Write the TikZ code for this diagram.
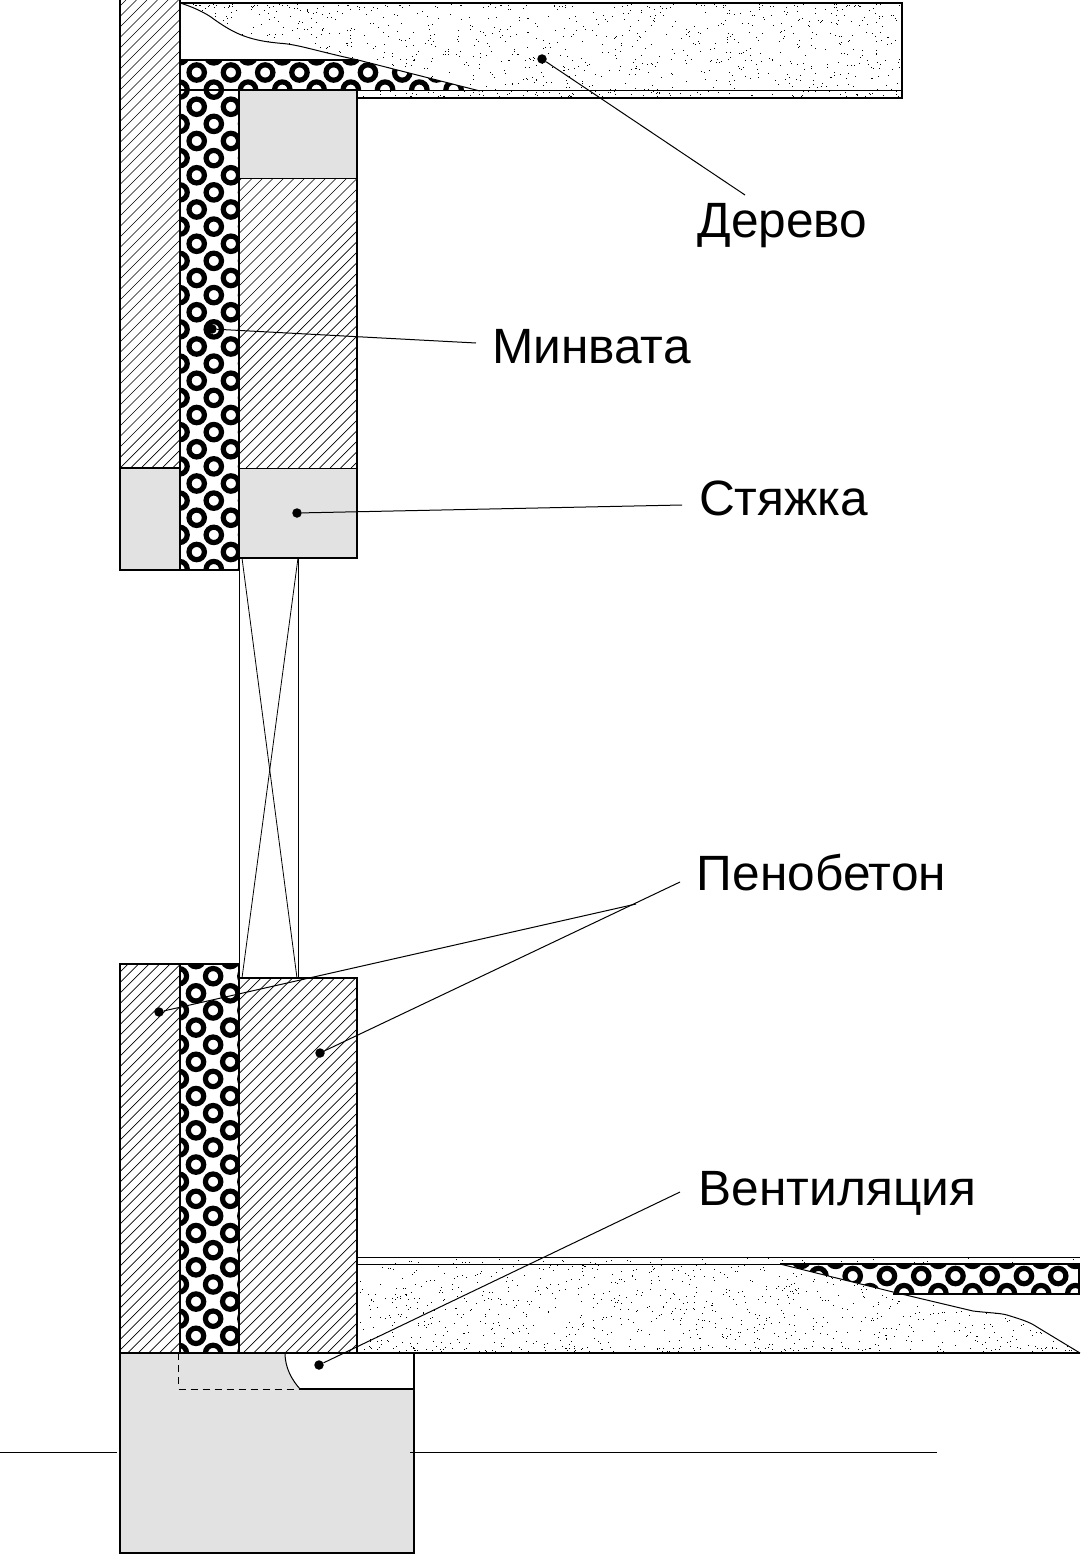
\documentclass[tikz,border=0pt]{standalone}
\usepackage{fontspec}
\setmainfont{Liberation Sans}
\tikzset{
  ringmark/.style={line width=5.2pt,black},
  hatchline/.style={line width=0.7pt,black},
  edge/.style={line width=1.3pt,black},
  thinedge/.style={line width=1pt,black},
  leader/.style={line width=1pt,black},
  dotmark/.style={circle,fill=black,inner sep=0pt,minimum size=9.5pt},
  labeltext/.style={font=\fontsize{49.6}{50}\selectfont,inner sep=0pt,anchor=base},
}
\definecolor{slab}{RGB}{226,226,226}
% rings: x0 y0 x1 x2 y1 y2 (x,y loop counts)
\newcommand{\ringfield}[6]{%
  \foreach \ii in {#3,...,#4}{\foreach \jj in {#5,...,#6}{%
    \draw[ringmark] ({#1+34.25*\ii},{#2+34.25*\jj}) circle (7.7);
    \draw[ringmark] ({#1+17.12+34.25*\ii},{#2+17.12+34.25*\jj}) circle (7.7);
  }}}
% hatch inside rectangle
\newcommand{\hatchrect}[4]{%
  \begin{scope}
    \clip (#1,#2) rectangle (#3,#4);
    \pgfmathtruncatemacro{\hstart}{floor((#1+#2)/10.5)}
    \pgfmathtruncatemacro{\hstop}{ceil((#3+#4)/10.5)}
    \foreach \kk in {\hstart,...,\hstop}{%
      \draw[hatchline] ({10.5*\kk-#4},#4) -- ({10.5*\kk-#2},#2);
    }
  \end{scope}}
% stipple rect x0 y0 width height count
\newcommand{\stipple}[5]{%
  \foreach \nn in {1,...,#5}{%
    \pgfmathsetmacro{\sx}{#1+rnd*#3}
    \pgfmathsetmacro{\sy}{#2+rnd*#4}
    \fill[black] (\sx,\sy) rectangle +(0.9,0.9);
  }}
\begin{document}
\begin{tikzpicture}[x=1pt,y=-1pt]
\useasboundingbox (0,0) rectangle (1080,1554);
\fill[white] (0,0) rectangle (1080,1554);
\pgfmathsetseed{4242}

%% ---------- upper part
\begin{scope}
  \clip (180,60) rectangle (500,90) (180,90) rectangle (239,570);
  \ringfield{196.7}{72.5}{-1}{9}{-1}{15}
\end{scope}
\begin{scope}
  \fill[white] (180,3) -- (902,3) -- (902,98) -- (357,98) -- (357,91) -- (480,91)
    -- (358,60) .. controls (320,52) and (300,45) .. (283,43.5)
    .. controls (250,41) and (235,34) .. (215,20) .. controls (205,12) and (190,6) .. (180,3) -- cycle;
  \clip (180,3) -- (902,3) -- (902,98) -- (357,98) -- (357,91) -- (480,91)
    -- (358,60) .. controls (320,52) and (300,45) .. (283,43.5)
    .. controls (250,41) and (235,34) .. (215,20) .. controls (205,12) and (190,6) .. (180,3) -- cycle;
  \stipple{180}{3}{722}{95}{1000}
  \stipple{180}{4}{722}{3}{60}
  \stipple{357}{91}{545}{7}{70}
\end{scope}
\draw[thinedge] (180,3) .. controls (190,6) and (205,12) .. (215,20)
   .. controls (235,34) and (250,41) .. (283,43.5)
   .. controls (300,45) and (320,52) .. (358,60) -- (480,91);
\draw[edge] (180,3) -- (902,3) -- (902,98) -- (357,98);
\draw[thinedge] (357,91) -- (902,91);
\draw[edge] (180,60) -- (358,60);
\draw[edge] (180,90) -- (239,90);

\hatchrect{120}{0}{180}{468}
\fill[slab] (120,468) rectangle (180,570);
\draw[edge] (120,0) -- (120,570) -- (180,570) -- (180,0);
\draw[line width=1.8pt] (120,468) -- (180,468);
\draw[edge] (180,570) -- (239,570) -- (239,90);
\fill[slab] (239,90) rectangle (357,179);
\hatchrect{239}{179}{357}{468}
\fill[slab] (239,468) rectangle (357,558);
\draw[edge] (239,90) rectangle (357,558);
\draw[thinedge] (239,179) -- (357,179);
\draw[thinedge] (239,468) -- (357,468);

%% ---------- window
\draw[thinedge] (239,558) rectangle (298,978);
\draw[line width=0.8pt] (242,558) -- (297,978);
\draw[line width=0.8pt] (298,558) -- (242,978);

%% ---------- lower part
\begin{scope}
  \clip (180,964) rectangle (239,1353);
  \ringfield{196}{993.3}{-1}{1}{-1}{11}
\end{scope}
\hatchrect{120}{964}{180}{1353}
\hatchrect{239}{978}{357}{1353}

%% floor
\begin{scope}
  \clip (780,1264) rectangle (1079,1294);
  \ringfield{852.7}{1276}{-2}{7}{-1}{1}
\end{scope}
\begin{scope}
  \fill[white] (357,1264) -- (780,1264)
    -- (893,1292) -- (973,1311) .. controls (990,1313) and (1000,1313) .. (1007,1315)
    .. controls (1020,1319) and (1030,1322) .. (1037,1327)
    -- (1080,1353) -- (357,1353) -- cycle;
  \clip (357,1264) -- (780,1264)
    -- (893,1292) -- (973,1311) .. controls (990,1313) and (1000,1313) .. (1007,1315)
    .. controls (1020,1319) and (1030,1322) .. (1037,1327)
    -- (1080,1353) -- (357,1353) -- cycle;
  \stipple{358}{1264}{722}{89}{950}
  \stipple{358}{1346}{722}{6}{70}
\end{scope}
\begin{scope}
  \clip (358,1258) rectangle (1080,1264);
  \stipple{358}{1258}{722}{6}{50}
\end{scope}
\draw[edge] (120,1353) -- (120,964) -- (239,964);
\draw[edge] (180,964) -- (180,1353);
\draw[edge] (239,964) -- (239,1353);
\draw[edge] (239,978) -- (357,978) -- (357,1353);
\draw[thinedge] (780,1264) -- (893,1292) -- (973,1311) .. controls (990,1313) and (1000,1313) .. (1007,1315)
    .. controls (1020,1319) and (1030,1322) .. (1037,1327) -- (1080,1353);
\draw[edge] (357,1257.5) -- (1080,1257.5);
\draw[thinedge] (357,1264) -- (1080,1264);
\draw[edge] (780,1264) -- (1079,1264) -- (1079,1294) -- (893,1294);
\draw[edge] (357,1353) -- (1080,1353);

%% foundation
\fill[slab] (120,1353) -- (285,1353) .. controls (285,1368) and (292,1380) .. (300,1389)
  -- (414,1389) -- (414,1553) -- (120,1553) -- cycle;
\draw[edge] (120,1353) -- (414,1353) -- (414,1553) -- (120,1553) -- cycle;
\draw[edge] (300,1389) -- (414,1389);
\draw[thinedge] (285,1353) .. controls (285,1368) and (292,1380) .. (300,1389);
\draw[thinedge,dash pattern=on 7pt off 5pt] (178.5,1353) -- (178.5,1389) -- (300,1389);

%% ground line
\coordinate (gl) at (0,1452);
\coordinate (gm) at (117,1452);
\coordinate (gn) at (410,1452);
\coordinate (gr) at (937,1452);
\draw[thinedge] (gl) -- (gm);
\draw[thinedge] (gn) -- (gr);

%% ---------- labels
\node[labeltext] (derevo) at (782.5,238) {Дерево};
\node[labeltext] (minvata) at (591.5,363) {Минвата};
\node[labeltext] (styazhka) at (783.5,515) {Стяжка};
\node[labeltext] (penobeton) at (821.5,890) {Пенобетон};
\node[labeltext] (vent) at (837.5,1205) {Вентиляция};

\node[dotmark] (d1) at (542,59) {};
\node[dotmark] (d2) at (212,329) {};
\node[dotmark] (d3) at (297,513) {};
\node[dotmark] (d4) at (159,1012) {};
\node[dotmark] (d5) at (320,1053) {};
\node[dotmark] (d6) at (319,1365) {};
\coordinate (e1) at (745,195);
\coordinate (e2) at (476,343);
\coordinate (e3) at (682,505);
\coordinate (e4) at (636,904);
\coordinate (e5) at (680,882);
\coordinate (e6) at (680,1192);
\draw[leader] (d1) -- (e1);
\draw[leader] (d2) -- (e2);
\draw[leader] (d3) -- (e3);
\draw[leader] (d4) -- (e4);
\draw[leader] (d5) -- (e5);
\draw[leader] (d6) -- (e6);
\end{tikzpicture}
\end{document}
